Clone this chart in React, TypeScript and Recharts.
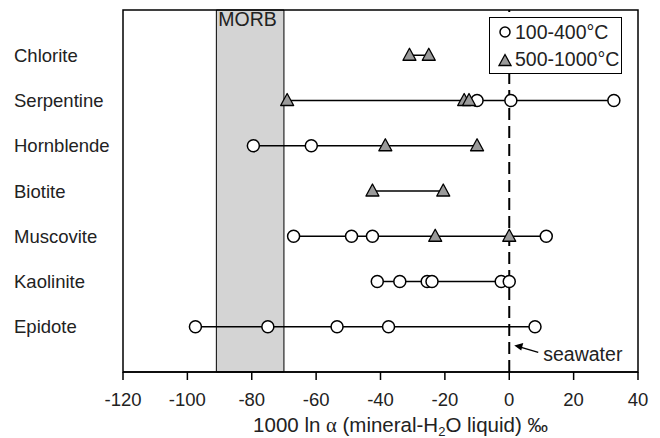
import React from 'react'
import {
  ComposedChart, Scatter, XAxis, YAxis, ReferenceArea, ReferenceDot, Legend,
} from 'recharts'

// ── Fraccionamiento isotópico mineral-agua ─────────────────────
const minerals = ['Chlorite', 'Serpentine', 'Hornblende', 'Biotite', 'Muscovite', 'Kaolinite', 'Epidote']

// 100-400°C (círculos)
const lowTemp: number[][] = [
  [],
  [-10, 0.5, 32.5],
  [-79.5, -61.5],
  [],
  [-67, -49, -42.5, 11.5],
  [-41, -34, -25.5, -24, -2.5, 0],
  [-97.5, -75, -53.5, -37.5, 8],
]

// 500-1000°C (triángulos)
const highTemp: number[][] = [
  [-31, -25],
  [-69, -14, -12.5],
  [-38.5, -10],
  [-42.5, -20.5],
  [-23, 0],
  [],
  [],
]

const xTicks = [-120, -100, -80, -60, -40, -20, 0, 20, 40]
const morb = [-91, -70]

const FONT = '"Liberation Sans", Arial, Helvetica, sans-serif'
const rowY = (i: number) => minerals.length - i

const circleData = lowTemp.flatMap((vals, i) => vals.map((x) => ({ x, y: rowY(i) })))
const triangleData = highTemp.flatMap((vals, i) => vals.map((x) => ({ x, y: rowY(i) })))
const rangeData = minerals.map((_, i) => {
  const all = [...lowTemp[i], ...highTemp[i]]
  return [
    { x: Math.min(...all), y: rowY(i) },
    { x: Math.max(...all), y: rowY(i) },
  ]
})
const seawaterLine = [{ x: 0, y: 0 }, { x: 0, y: minerals.length + 1 }]

const CircleMark = (p: { cx?: number; cy?: number }) => (
  <circle cx={p.cx} cy={p.cy} r={6} fill="#fff" stroke="#000" strokeWidth={1.5} />
)
const TriangleMark = (p: { cx?: number; cy?: number }) => {
  const cx = p.cx ?? 0
  const cy = p.cy ?? 0
  return (
    <path
      d={`M${cx},${cy - 7} L${cx + 6.5},${cy + 5} L${cx - 6.5},${cy + 5} Z`}
      fill="#9a9a9a" stroke="#000" strokeWidth={1.3} strokeLinejoin="round"
    />
  )
}
const NoMark = () => <g />

const CategoryTick = (p: { y?: number; payload?: { value: number } }) => (
  <text x={14} y={p.y} dy={6.5} textAnchor="start" fontSize={18.5} fontFamily={FONT} fill="#222">
    {minerals[minerals.length - (p.payload?.value ?? 0)]}
  </text>
)

const AxisTitle = (p: { viewBox?: { x: number; y: number; width: number } }) => {
  const vb = p.viewBox ?? { x: 0, y: 0, width: 0 }
  return (
    <text x={vb.x + vb.width / 2 + 20} y={vb.y + 60} textAnchor="middle" fontSize={20.5} fontFamily={FONT} fill="#222">
      1000 ln <tspan fontFamily="serif">α</tspan> (mineral-H<tspan fontSize={13} dy={4}>2</tspan>
      <tspan dy={-4}>O liquid) ‰</tspan>
    </text>
  )
}

const SeawaterNote = (p: { cx?: number; cy?: number }) => {
  const cx = p.cx ?? 0
  const cy = p.cy ?? 0
  return (
    <g>
      <line x1={cx + 12} y1={cy - 2} x2={cx + 29} y2={cy + 3} stroke="#000" strokeWidth={1.5} />
      <path d={`M${cx + 5},${cy - 4} L${cx + 14},${cy - 6.5} L${cx + 12},${cy + 1} Z`} fill="#000" />
      <text x={cx + 34} y={cy + 12} fontSize={19.5} fontFamily={FONT} fill="#222">seawater</text>
    </g>
  )
}

const LegendBox = () => (
  <div
    style={{
      position: 'absolute', left: 489, top: 17, width: 131, height: 55,
      border: '1.5px solid #000', background: '#fff', fontFamily: FONT, fontSize: 19.5, color: '#222',
    }}
  >
    <div style={{ display: 'flex', alignItems: 'center', height: 28, paddingLeft: 8 }}>
      <svg width={14} height={16}><circle cx={7} cy={8} r={5} fill="#fff" stroke="#000" strokeWidth={1.5} /></svg>
      <span style={{ marginLeft: 3 }}>100-400°C</span>
    </div>
    <div style={{ display: 'flex', alignItems: 'center', height: 27, paddingLeft: 8 }}>
      <svg width={14} height={16}><path d="M7,2.5 L13,13.5 L1,13.5 Z" fill="#9a9a9a" stroke="#000" strokeWidth={1.3} /></svg>
      <span style={{ marginLeft: 3 }}>500-1000°C</span>
    </div>
  </div>
)

export default function App() {
  return (
    <div style={{ position: 'absolute', left: 0, top: 0, background: '#fff' }}>
      <ComposedChart width={660} height={438} margin={{ top: 10, right: 22, left: 0, bottom: 0 }}>
        <XAxis
          type="number" dataKey="x" domain={[-120, 40]} ticks={xTicks} allowDataOverflow
          height={66} tickSize={8} tickMargin={13} stroke="#000" strokeWidth={1.5}
          tick={{ fill: '#222', fontSize: 18.5, fontFamily: FONT }}
          label={{ content: AxisTitle as never }}
        />
        <YAxis
          type="number" dataKey="y" domain={[0, minerals.length + 1]} ticks={minerals.map((_, i) => rowY(i))}
          width={123} axisLine={false} tickLine={false} tick={CategoryTick as never}
        />
        <ReferenceArea
          x1={morb[0]} x2={morb[1]} fill="#d4d4d4" fillOpacity={1} stroke="#000" strokeWidth={1}
          label={{ value: 'MORB', position: 'insideTopLeft', offset: 2, fontSize: 19.5, fontFamily: FONT, fill: '#222' }}
        />
        <Scatter
          data={seawaterLine} line={{ stroke: '#000', strokeWidth: 2, strokeDasharray: '12 6' }}
          shape={NoMark} isAnimationActive={false} legendType="none"
        />
        {rangeData.map((d, i) => (
          <Scatter
            key={minerals[i]} data={d} line={{ stroke: '#000', strokeWidth: 1.5 }}
            shape={NoMark} isAnimationActive={false} legendType="none"
          />
        ))}
        <Scatter name="100-400°C" data={circleData} shape={CircleMark} isAnimationActive={false} />
        <Scatter name="500-1000°C" data={triangleData} shape={TriangleMark} isAnimationActive={false} />
        <ReferenceArea
          x1={-120} x2={40} y1={0} y2={minerals.length + 1} fill="none" stroke="#000" strokeWidth={1.5}
        />
        <ReferenceDot x={0} y={0.5} r={0} shape={SeawaterNote as never} />
        <Legend content={LegendBox} wrapperStyle={{ position: 'absolute', left: 0, top: 0, width: 0, height: 0 }} />
      </ComposedChart>
    </div>
  )
}
